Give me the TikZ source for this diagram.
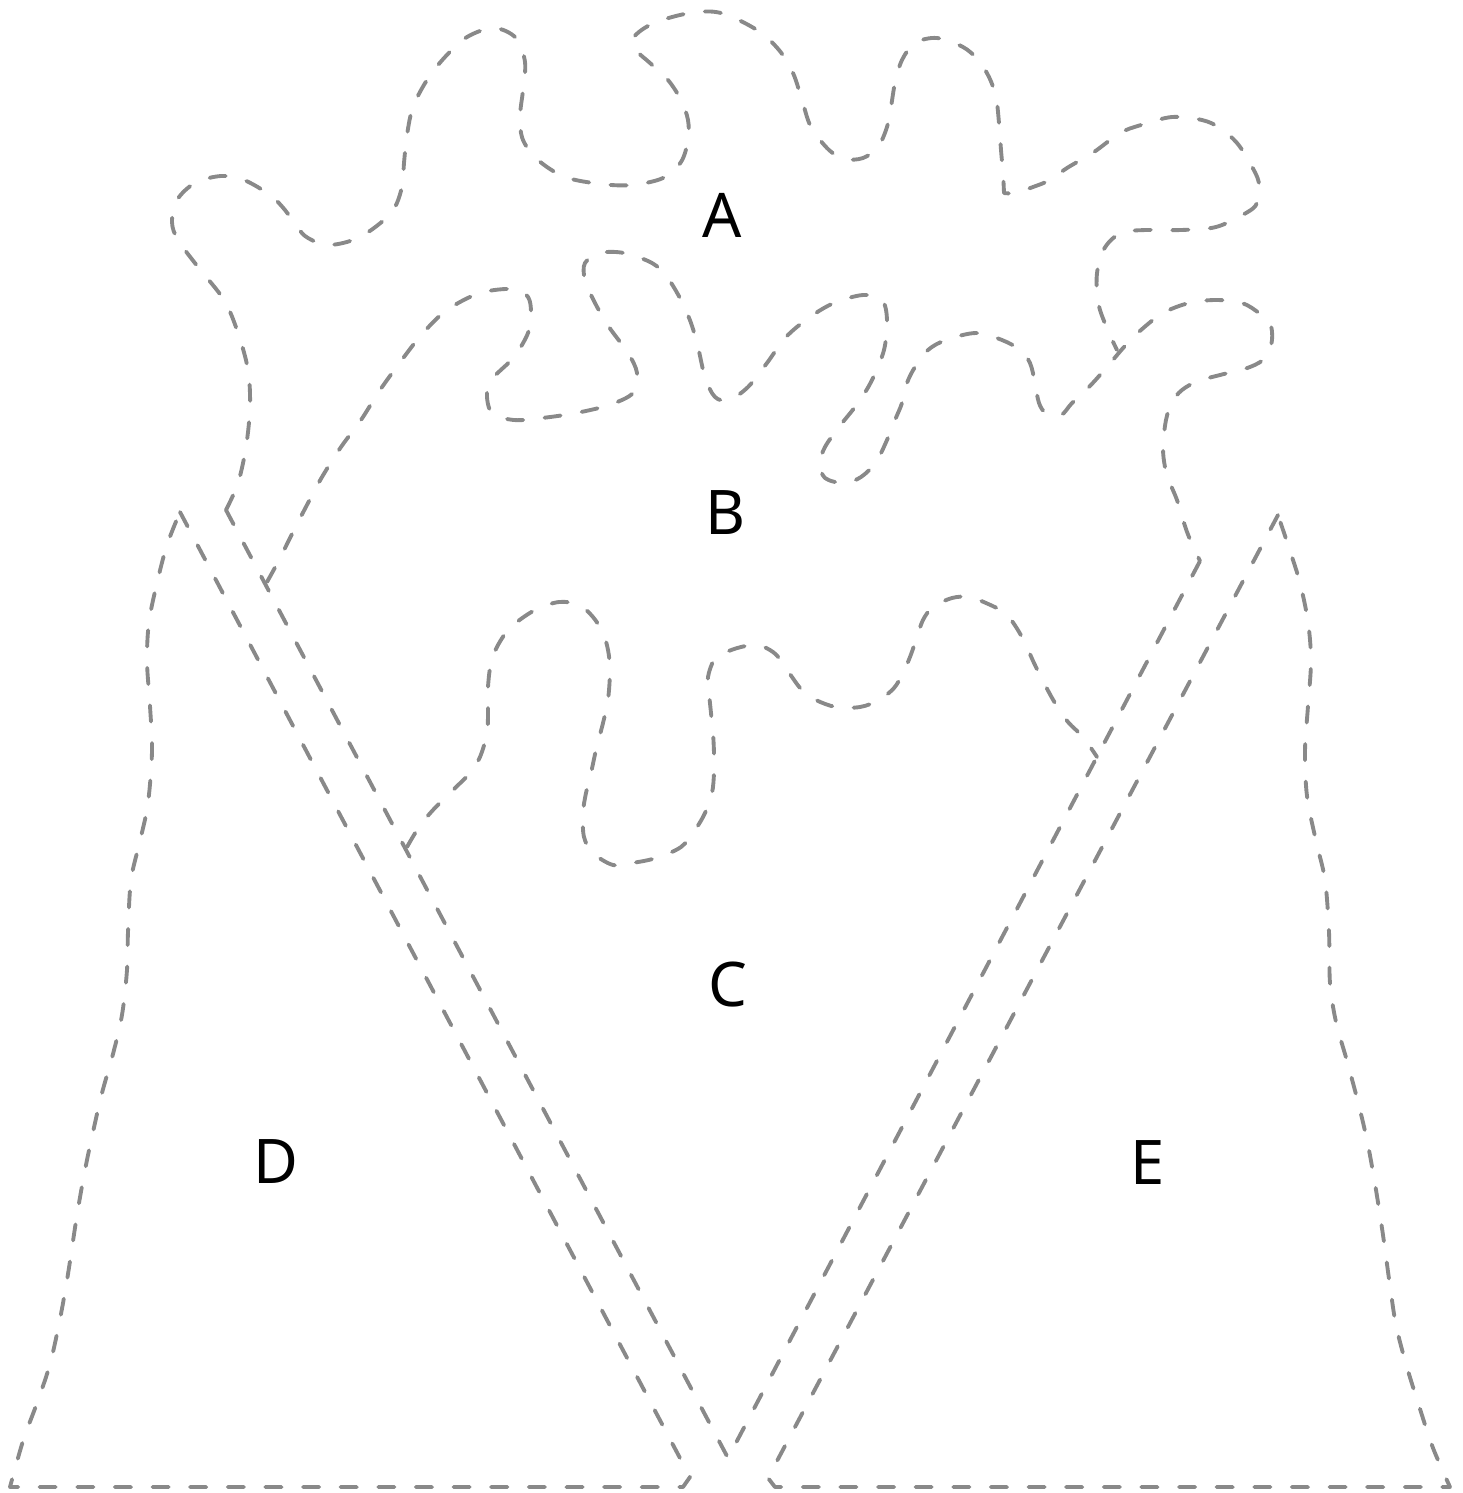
\documentclass[tikz,border=0pt]{standalone}
\usepackage{fontspec}
\setmainfont{Noto Sans}
\definecolor{linegray}{HTML}{898989}
\begin{document}
\begin{tikzpicture}[x=0.01cm,y=-0.01cm,
  outline/.style={draw=linegray, line width=1.1pt, dash pattern=on 4.6pt off 6.1pt, line cap=round, line join=round},
  lbl/.style={font=\fontsize{17.5}{20}\selectfont, text=black, inner sep=0pt}]
\useasboundingbox (0,0) rectangle (1463,1493);

% corner points
\coordinate (aStart) at (226,510);
\coordinate (vBot) at (728,1458);
\coordinate (bEnd) at (1200,561);
\coordinate (dTop) at (180,512);
\coordinate (dCorner) at (690,1477);
\coordinate (dBR) at (683,1487);
\coordinate (dBL) at (10,1487);
\coordinate (eTop) at (1278,515);
\coordinate (eCorner) at (768,1478);
\coordinate (eBL) at (775,1487);
\coordinate (eBR) at (1450,1487);

% region A outline
\draw[outline] plot[smooth, tension=0.55] coordinates {(226,510) (238,483) (246,447) (250,407) (248,370) (238,333) (224,300) (198,267) (178,240) (172,222) (177,200) (195,183) (221,176) (244,180) (270,195) (285,210) (297,227) (308,238) (329,245) (360,237) (391,213) (402,187) (404,163) (407,135) (413,107) (427,80) (445,57) (467,37) (494,28) (516,38) (525,62) (523,90) (520,117) (523,140) (538,160) (565,177) (601,184) (632,185) (663,178) (681,162) (688,140) (688,120) (681,100) (668,80) (650,63) (636,50) (634,37) (654,23) (690,13) (721,13) (757,30) (779,50) (793,73) (802,100) (811,127) (829,150) (845,159) (863,158) (878,147) (887,127) (891,107) (895,83) (902,60) (915,43) (937,38) (963,47) (978,60) (989,77) (996,97) (999,123) (1001,150) (1003,173) (1004,193)}
  -- plot[smooth, tension=0.55] coordinates {(1004,193) (1015,193) (1033,187) (1050,180) (1067,168) (1094,152) (1120,133) (1141,125) (1172,117) (1202,120) (1220,128) (1237,143) (1250,163) (1259,183) (1257,203) (1246,213) (1216,227) (1181,230) (1146,230) (1124,232) (1111,240) (1102,253) (1097,273) (1097,293) (1100,310) (1109,333) (1117,350)};

% region B outline
\draw[outline] plot[smooth, tension=0.55] coordinates {(267,582) (279,560) (294,530) (308,503) (322,477) (341,447) (361,420) (380,390) (404,357) (423,333) (447,310) (480,293) (514,289) (528,297) (531,313) (528,333) (514,357) (494,377) (487,393) (492,413) (514,420) (542,418) (576,413) (609,405) (633,393) (637,373) (628,353) (609,327) (595,303) (585,280) (585,263) (600,253) (624,253) (652,263) (667,277) (681,300) (691,323) (698,347) (705,377) (715,397) (729,400) (748,387) (767,363) (786,337) (810,317) (834,303) (863,295) (882,300) (887,320) (884,350) (872,380) (858,403) (839,427) (825,447) (820,463) (825,478) (844,483) (861,477) (876,462) (887,440) (895,420) (902,403) (907,383) (915,367) (928,350) (946,340) (976,333) (1002,340) (1020,350) (1030,363) (1035,383) (1039,403) (1046,413) (1061,415) (1072,403) (1089,387) (1107,367) (1124,347) (1141,330) (1163,313) (1189,303) (1216,300) (1242,303) (1259,313) (1270,323) (1272,340) (1266,357) (1250,367) (1220,375) (1198,381) (1182,390) (1172,402) (1166,420) (1163,447) (1165,467) (1170,483) (1177,500) (1183,520) (1189,537) (1200,561)};

% region C outline
\draw[outline] plot[smooth, tension=0.55] coordinates {(407,847) (419,827) (433,810) (453,790) (470,773) (480,757) (487,733) (488,710) (488,687) (491,663) (498,645) (511,627) (535,610) (559,602) (579,605) (593,617) (603,633) (608,650) (610,670) (608,700) (603,723) (596,750) (591,773) (586,793) (583,813) (584,837) (593,853) (613,865) (632,863) (656,858) (681,847) (695,830) (705,813) (712,793) (714,773) (714,753) (713,733) (711,713) (709,693) (708,677) (714,660) (724,653) (741,647) (758,645) (773,652) (782,662) (792,677) (802,690) (816,700) (836,707) (860,707) (879,700) (894,688) (903,673) (910,657) (916,640) (923,620) (933,607) (952,598) (969,597) (986,603) (1005,613) (1016,627) (1025,643) (1034,663) (1044,683) (1055,703) (1068,722) (1083,737) (1097,757)};

% the V between B/C and D/E
\draw[outline] (aStart) -- (vBot) -- (bEnd);

% region D
\draw[outline] (dTop) -- (dCorner) -- (dBR) -- (dBL)
  -- plot[smooth, tension=0.55] coordinates {(10,1487) (23,1441) (37,1403) (50,1364) (60,1319) (68,1274) (77,1215) (85,1170) (93,1132) (102,1093) (113,1054) (122,1015) (127,970) (128,932) (131,880) (140,841) (148,803) (152,751) (150,706) (147,661) (149,622) (157,583) (167,545) (180,512)};

% region E
\draw[outline] (eTop) -- (eCorner) -- (eBL) -- (eBR)
  -- plot[smooth, tension=0.55] coordinates {(1450,1487) (1433,1448) (1420,1409) (1406,1364) (1396,1325) (1390,1286) (1383,1235) (1376,1190) (1368,1145) (1359,1106) (1347,1061) (1336,1022) (1330,983) (1329,932) (1325,880) (1316,841) (1307,796) (1305,751) (1308,706) (1311,661) (1308,622) (1300,583) (1290,551) (1278,515)};

% labels
\node[lbl] (labA) at (722,215) {A};
\node[lbl] (labB) at (725,513) {B};
\node[lbl] (labC) at (728,985) {C};
\node[lbl] (labD) at (276,1162) {D};
\node[lbl] (labE) at (1148,1163) {E};
\end{tikzpicture}
\end{document}
